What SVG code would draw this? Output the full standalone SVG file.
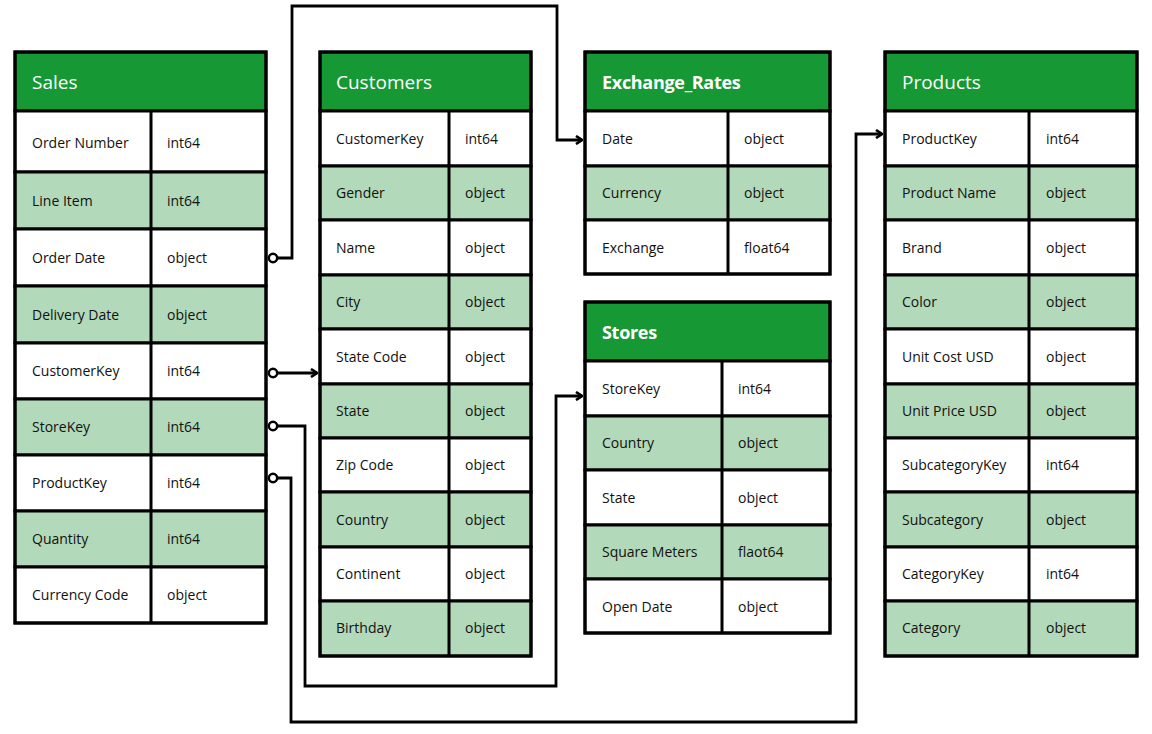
<svg xmlns="http://www.w3.org/2000/svg" width="1152" height="734" viewBox="0 0 1152 734">
<defs>
<style>
.hd{fill:#169834;stroke:#000;stroke-width:3}
.w{fill:#fff;stroke:#000;stroke-width:3}
.g{fill:#b2d9b9;stroke:#000;stroke-width:3}
.dv{stroke:#000;stroke-width:3}
.ob{fill:none;stroke:#000;stroke-width:3}
.t{font-family:"Open Sans","Noto Sans",sans-serif;font-size:14px;fill:#111}
.h{font-family:"Open Sans","Noto Sans",sans-serif;font-size:19px;fill:#fff}
.hb{font-family:"Open Sans","Noto Sans",sans-serif;font-size:18px;font-weight:bold;fill:#fff;letter-spacing:-0.3px}
.c{fill:none;stroke:#000;stroke-width:2.8}
.dot{fill:#fff;stroke:#000;stroke-width:2.5}
</style>
<marker id="ar" viewBox="0 0 10 10" refX="9" refY="5" markerWidth="10" markerHeight="10" markerUnits="userSpaceOnUse" orient="auto">
<path d="M3,1 L9,5 L3,9" fill="none" stroke="#000" stroke-width="2.6"/>
</marker>
</defs>
<rect width="1152" height="734" fill="#fff"/>

<g id="connectors">
<path class="c" d="M277,258 H292 V6 H557 V140 H582" marker-end="url(#ar)"/>
<path class="c" d="M277,373 H317" marker-end="url(#ar)"/>
<path class="c" d="M277,426 H305 V686 H556 V396 H582" marker-end="url(#ar)"/>
<path class="c" d="M277,478 H291 V722 H856 V134 H882" marker-end="url(#ar)"/>
<circle class="dot" cx="273" cy="258" r="4.2"/>
<circle class="dot" cx="273" cy="373" r="4.2"/>
<circle class="dot" cx="273" cy="426" r="4.2"/>
<circle class="dot" cx="273" cy="478" r="4.2"/>
</g>

<g id="sales">
<rect class="hd" x="15" y="52" width="251" height="59"/>
<text class="h" x="32" y="89">Sales</text>
<rect class="w" x="15" y="111" width="251" height="61"/>
<rect class="g" x="15" y="172" width="251" height="57"/>
<rect class="w" x="15" y="229" width="251" height="57"/>
<rect class="g" x="15" y="286" width="251" height="57"/>
<rect class="w" x="15" y="343" width="251" height="56"/>
<rect class="g" x="15" y="399" width="251" height="56"/>
<rect class="w" x="15" y="455" width="251" height="56"/>
<rect class="g" x="15" y="511" width="251" height="56"/>
<rect class="w" x="15" y="567" width="251" height="56"/>
<line class="dv" x1="151" y1="111" x2="151" y2="623"/>
<rect class="ob" x="15" y="52" width="251" height="571"/>
<text class="t" x="32" y="148">Order Number</text><text class="t" x="167" y="148">int64</text>
<text class="t" x="32" y="206">Line Item</text><text class="t" x="167" y="206">int64</text>
<text class="t" x="32" y="263">Order Date</text><text class="t" x="167" y="263">object</text>
<text class="t" x="32" y="320">Delivery Date</text><text class="t" x="167" y="320">object</text>
<text class="t" x="32" y="376">CustomerKey</text><text class="t" x="167" y="376">int64</text>
<text class="t" x="32" y="432">StoreKey</text><text class="t" x="167" y="432">int64</text>
<text class="t" x="32" y="488">ProductKey</text><text class="t" x="167" y="488">int64</text>
<text class="t" x="32" y="544">Quantity</text><text class="t" x="167" y="544">int64</text>
<text class="t" x="32" y="600">Currency Code</text><text class="t" x="167" y="600">object</text>
</g>

<g id="customers">
<rect class="hd" x="320" y="52" width="211" height="59"/>
<text class="h" x="336" y="89">Customers</text>
<rect class="w" x="320" y="111" width="211" height="55"/>
<rect class="g" x="320" y="166" width="211" height="54"/>
<rect class="w" x="320" y="220" width="211" height="55"/>
<rect class="g" x="320" y="275" width="211" height="54"/>
<rect class="w" x="320" y="329" width="211" height="55"/>
<rect class="g" x="320" y="384" width="211" height="54"/>
<rect class="w" x="320" y="438" width="211" height="54"/>
<rect class="g" x="320" y="492" width="211" height="55"/>
<rect class="w" x="320" y="547" width="211" height="54"/>
<rect class="g" x="320" y="601" width="211" height="55"/>
<line class="dv" x1="449" y1="111" x2="449" y2="656"/>
<rect class="ob" x="320" y="52" width="211" height="604"/>
<text class="t" x="336" y="144">CustomerKey</text><text class="t" x="465" y="144">int64</text>
<text class="t" x="336" y="198">Gender</text><text class="t" x="465" y="198">object</text>
<text class="t" x="336" y="253">Name</text><text class="t" x="465" y="253">object</text>
<text class="t" x="336" y="307">City</text><text class="t" x="465" y="307">object</text>
<text class="t" x="336" y="362">State Code</text><text class="t" x="465" y="362">object</text>
<text class="t" x="336" y="416">State</text><text class="t" x="465" y="416">object</text>
<text class="t" x="336" y="470">Zip Code</text><text class="t" x="465" y="470">object</text>
<text class="t" x="336" y="525">Country</text><text class="t" x="465" y="525">object</text>
<text class="t" x="336" y="579">Continent</text><text class="t" x="465" y="579">object</text>
<text class="t" x="336" y="633">Birthday</text><text class="t" x="465" y="633">object</text>
</g>

<g id="exchange_rates">
<rect class="hd" x="585" y="52" width="245" height="59"/>
<text class="hb" x="602" y="89">Exchange_Rates</text>
<rect class="w" x="585" y="111" width="245" height="55"/>
<rect class="g" x="585" y="166" width="245" height="54"/>
<rect class="w" x="585" y="220" width="245" height="54"/>
<line class="dv" x1="728" y1="111" x2="728" y2="274"/>
<rect class="ob" x="585" y="52" width="245" height="222"/>
<text class="t" x="602" y="144">Date</text><text class="t" x="744" y="144">object</text>
<text class="t" x="602" y="198">Currency</text><text class="t" x="744" y="198">object</text>
<text class="t" x="602" y="253">Exchange</text><text class="t" x="744" y="253">float64</text>
</g>

<g id="stores">
<rect class="hd" x="585" y="302" width="245" height="59"/>
<text class="hb" x="602" y="339">Stores</text>
<rect class="w" x="585" y="361" width="245" height="55"/>
<rect class="g" x="585" y="416" width="245" height="54"/>
<rect class="w" x="585" y="470" width="245" height="55"/>
<rect class="g" x="585" y="525" width="245" height="54"/>
<rect class="w" x="585" y="579" width="245" height="54"/>
<line class="dv" x1="722" y1="361" x2="722" y2="633"/>
<rect class="ob" x="585" y="302" width="245" height="331"/>
<text class="t" x="602" y="394">StoreKey</text><text class="t" x="738" y="394">int64</text>
<text class="t" x="602" y="448">Country</text><text class="t" x="738" y="448">object</text>
<text class="t" x="602" y="503">State</text><text class="t" x="738" y="503">object</text>
<text class="t" x="602" y="557">Square Meters</text><text class="t" x="738" y="557">flaot64</text>
<text class="t" x="602" y="612">Open Date</text><text class="t" x="738" y="612">object</text>
</g>

<g id="products">
<rect class="hd" x="885" y="52" width="252" height="59"/>
<text class="h" x="902" y="89">Products</text>
<rect class="w" x="885" y="111" width="252" height="55"/>
<rect class="g" x="885" y="166" width="252" height="54"/>
<rect class="w" x="885" y="220" width="252" height="55"/>
<rect class="g" x="885" y="275" width="252" height="54"/>
<rect class="w" x="885" y="329" width="252" height="55"/>
<rect class="g" x="885" y="384" width="252" height="54"/>
<rect class="w" x="885" y="438" width="252" height="54"/>
<rect class="g" x="885" y="492" width="252" height="55"/>
<rect class="w" x="885" y="547" width="252" height="54"/>
<rect class="g" x="885" y="601" width="252" height="55"/>
<line class="dv" x1="1029" y1="111" x2="1029" y2="656"/>
<rect class="ob" x="885" y="52" width="252" height="604"/>
<text class="t" x="902" y="144">ProductKey</text><text class="t" x="1046" y="144">int64</text>
<text class="t" x="902" y="198">Product Name</text><text class="t" x="1046" y="198">object</text>
<text class="t" x="902" y="253">Brand</text><text class="t" x="1046" y="253">object</text>
<text class="t" x="902" y="307">Color</text><text class="t" x="1046" y="307">object</text>
<text class="t" x="902" y="362">Unit Cost USD</text><text class="t" x="1046" y="362">object</text>
<text class="t" x="902" y="416">Unit Price USD</text><text class="t" x="1046" y="416">object</text>
<text class="t" x="902" y="470">SubcategoryKey</text><text class="t" x="1046" y="470">int64</text>
<text class="t" x="902" y="525">Subcategory</text><text class="t" x="1046" y="525">object</text>
<text class="t" x="902" y="579">CategoryKey</text><text class="t" x="1046" y="579">int64</text>
<text class="t" x="902" y="633">Category</text><text class="t" x="1046" y="633">object</text>
</g>
</svg>
